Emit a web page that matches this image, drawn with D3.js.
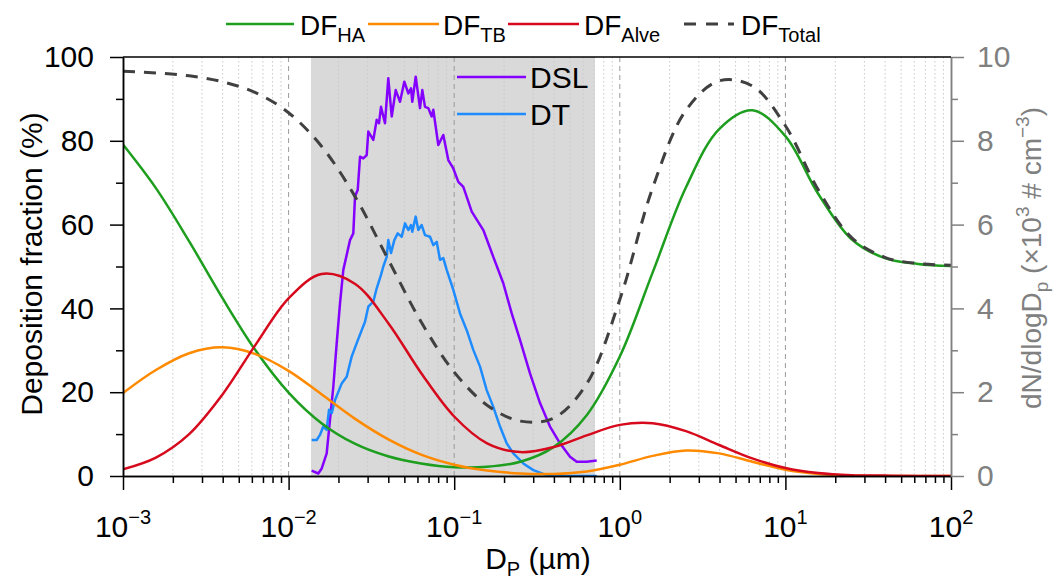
<!DOCTYPE html>
<html>
<head>
<meta charset="utf-8">
<script src="https://cdn.jsdelivr.net/npm/d3@7"></script>
<style>
  body { margin: 0; background: #fff; }
  svg { display: block; font-family: "Liberation Sans", Arial, sans-serif; }
</style>
</head>
<body>
<svg id="chart" width="1060" height="579"></svg>
<script>
// particle diameter (um) for the deposition fraction curves
const dpModel = [0.001, 0.00158, 0.00251, 0.00398, 0.00631, 0.01, 0.0158, 0.0251, 0.0398, 0.0631,
  0.1, 0.158, 0.251, 0.398, 0.631, 1, 1.58, 2.51, 3.98, 6.31, 10, 15.8, 25.1, 39.8, 63.1, 100];
const dfHA = [79.1, 68.7, 56.0, 42.5, 30.0, 19.9, 12.6, 7.7, 4.7, 3.0, 2.1, 2.2, 3.4, 6.9, 14.5,
  28.5, 48.6, 68.9, 82.8, 87.3, 81.1, 67.3, 56.5, 52.0, 50.6, 50.1];
const dfTB = [19.8, 25.3, 29.3, 30.7, 29.1, 25.1, 19.5, 13.7, 8.8, 5.1, 2.7, 1.3, 0.6, 0.5, 1.1,
  2.7, 4.8, 6.1, 5.4, 3.4, 1.5, 0.5, 0.1, 0.0, 0.0, 0.0];
const dfAlve = [1.6, 4.4, 10.0, 19.4, 31.3, 42.4, 48.2, 45.9, 36.6, 24.6, 14.2, 7.8, 5.7, 6.9, 9.7,
  12.2, 12.6, 10.7, 7.4, 4.2, 1.9, 0.7, 0.2, 0.1, 0.0, 0.0];
const dfTotal = [96.6, 96.2, 95.5, 94.1, 91.5, 86.7, 78.7, 66.8, 51.8, 36.8, 24.8, 16.9, 13.1, 13.8, 22.0,
  42.1, 68.8, 87.3, 94.3, 93.1, 83.6, 68.3, 56.9, 52.2, 50.7, 50.3];

// measured size distributions (x10^3 # cm^-3)
const dslD = [0.01378, 0.01511, 0.01585, 0.01698, 0.01778, 0.01862, 0.01952, 0.02044, 0.0214, 0.02349,
  0.02459, 0.02518, 0.02615, 0.027, 0.02826, 0.02962, 0.03029, 0.03246, 0.03404, 0.03515, 0.03614,
  0.0382, 0.04, 0.04194, 0.04434, 0.04707, 0.04997, 0.05282, 0.05484, 0.05585, 0.05855, 0.06216,
  0.06418, 0.06664, 0.06976, 0.07312, 0.07478, 0.08017, 0.08593, 0.09213, 0.09877, 0.1059, 0.1135,
  0.1276, 0.1499, 0.1722, 0.1979, 0.2225, 0.2496, 0.2869, 0.3298, 0.3789, 0.4355, 0.5004, 0.5491,
  0.6312, 0.7252];
const dslN = [0.13, 0.06, 0.18, 0.54, 1.34, 2.13, 3.17, 4.12, 4.92, 5.63, 5.79, 6.67, 6.83, 7.62, 7.58,
  7.66, 8.22, 8.02, 8.50, 8.42, 8.81, 8.42, 9.49, 8.58, 9.21, 8.93, 9.41, 9.13, 9.25, 8.93, 9.53, 8.78,
  9.21, 8.81, 8.78, 8.58, 8.74, 7.90, 8.14, 7.54, 7.34, 7.02, 6.90, 6.31, 5.87, 5.23, 4.60, 3.88, 3.25,
  2.45, 1.74, 1.18, 0.78, 0.46, 0.34, 0.34, 0.37];
const dtD = [0.01378, 0.01478, 0.01547, 0.0162, 0.01698, 0.01754, 0.01821, 0.01906, 0.02093, 0.02243,
  0.02404, 0.02578, 0.02763, 0.02893, 0.03029, 0.03246, 0.03404, 0.03614, 0.03731, 0.03912, 0.04,
  0.04153, 0.04349, 0.04559, 0.0482, 0.05046, 0.05282, 0.05484, 0.05585, 0.05855, 0.0607, 0.06363,
  0.06664, 0.07143, 0.07478, 0.0784, 0.08209, 0.08593, 0.0901, 0.09877, 0.1084, 0.119, 0.1304, 0.1432,
  0.1571, 0.1722, 0.1891, 0.2075, 0.2275, 0.2614, 0.3004, 0.3451, 0.3965, 0.5, 0.7252];
const dtN = [0.86, 0.86, 0.98, 1.18, 1.10, 1.58, 1.50, 1.81, 2.21, 2.37, 2.85, 3.17, 3.48, 3.68, 4.04,
  4.16, 4.48, 4.80, 5.00, 5.23, 5.63, 5.32, 5.63, 5.79, 5.71, 6.03, 5.87, 5.99, 5.83, 6.19, 5.87, 5.99,
  5.75, 5.71, 5.51, 5.59, 5.16, 5.20, 4.92, 4.44, 3.88, 3.48, 3.01, 2.61, 2.05, 1.65, 1.18, 0.78, 0.54,
  0.30, 0.14, 0.05, 0.01, 0.0, 0.0];

// measured size range (shaded)
const shadeRange = [0.01365, 0.708];

// ticks
const xDecades = [-3, -2, -1, 0, 1, 2];
const yLeftTicks = [0, 20, 40, 60, 80, 100];
const yLeftMinor = [10, 30, 50, 70, 90];
const yRightTicks = [0, 2, 4, 6, 8, 10];
const yRightMinor = [1, 3, 5, 7, 9];

const col = { ha: "#1e9e1e", tb: "#ff8a00", alve: "#d60a1c", total: "#404040", dsl: "#8400ff", dt: "#1e8cff" };

const pL = 123, pR = 951, pT = 57, pB = 476;
const svg = d3.select("#chart");

const x = d3.scaleLog().domain([1e-3, 1e2]).range([pL, pR]);
const yL = d3.scaleLinear().domain([0, 100]).range([pB, pT]);
const yR = d3.scaleLinear().domain([0, 10]).range([pB, pT]);

svg.append("defs").append("clipPath").attr("id", "clip")
  .append("rect").attr("x", pL).attr("y", pT).attr("width", pR - pL).attr("height", pB - pT);

// shaded measurement range
svg.append("rect")
  .attr("x", x(shadeRange[0])).attr("y", pT)
  .attr("width", x(shadeRange[1]) - x(shadeRange[0])).attr("height", pB - pT)
  .attr("fill", "#d9d9d9");

// grid
const minorVals = [];
xDecades.slice(0, -1).forEach(e => { for (let k = 2; k <= 9; k++) minorVals.push(k * Math.pow(10, e)); });
const majorVals = xDecades.slice(1, -1).map(e => Math.pow(10, e));

svg.append("g").selectAll("line").data(minorVals).join("line")
  .attr("x1", d => x(d)).attr("x2", d => x(d)).attr("y1", pT).attr("y2", pB)
  .attr("stroke", "#c8c8c8").attr("stroke-width", 1).attr("stroke-dasharray", "1.5,2.5");
svg.append("g").selectAll("line").data(majorVals).join("line")
  .attr("x1", d => x(d)).attr("x2", d => x(d)).attr("y1", pT).attr("y2", pB)
  .attr("stroke", "#9a9a9a").attr("stroke-width", 1).attr("stroke-dasharray", "5,4");

// curves
const plot = svg.append("g").attr("clip-path", "url(#clip)");

const lineR = d3.line().x(d => x(d[0])).y(d => yR(d[1]));
plot.append("path").datum(d3.zip(dslD, dslN)).attr("d", lineR)
  .attr("fill", "none").attr("stroke", col.dsl).attr("stroke-width", 2.5).attr("stroke-linejoin", "round");
plot.append("path").datum(d3.zip(dtD, dtN)).attr("d", lineR)
  .attr("fill", "none").attr("stroke", col.dt).attr("stroke-width", 2.5).attr("stroke-linejoin", "round");

const lineL = d3.line().x(d => x(d[0])).y(d => yL(d[1])).curve(d3.curveCatmullRom.alpha(0.5));
const dfSeries = [
  { vals: dfHA, color: col.ha, dash: null },
  { vals: dfTB, color: col.tb, dash: null },
  { vals: dfAlve, color: col.alve, dash: null },
  { vals: dfTotal, color: col.total, dash: "12,9" }
];
dfSeries.forEach(s => {
  plot.append("path").datum(d3.zip(dpModel, s.vals)).attr("d", lineL)
    .attr("fill", "none").attr("stroke", s.color).attr("stroke-width", s.dash ? 3 : 2.5)
    .attr("stroke-dasharray", s.dash);
});

// axes
const fs = 30;
const xAxisMinor = svg.append("g").attr("transform", `translate(0,${pB})`)
  .call(d3.axisBottom(x).tickValues(minorVals).tickSize(7).tickSizeOuter(0).tickFormat(""));
const xAxis = svg.append("g").attr("transform", `translate(0,${pB})`)
  .call(d3.axisBottom(x).tickValues(xDecades.map(e => Math.pow(10, e))).tickSize(14).tickSizeOuter(0).tickFormat(""));
[xAxisMinor, xAxis].forEach(g => g.selectAll("line, path").attr("stroke-width", 1.5));

xDecades.forEach(e => {
  const t = svg.append("text").attr("x", x(Math.pow(10, e))).attr("y", 537)
    .attr("text-anchor", "middle").style("font-size", fs + "px").attr("fill", "#000");
  t.append("tspan").text("10");
  t.append("tspan").attr("dy", -13).style("font-size", "20px").text(e < 0 ? "\u2212" + (-e) : String(e));
});

const yAxisMinor = svg.append("g").attr("transform", `translate(${pL},0)`)
  .call(d3.axisLeft(yL).tickValues(yLeftMinor).tickSize(7).tickSizeOuter(0).tickFormat(""));
const yAxis = svg.append("g").attr("transform", `translate(${pL},0)`)
  .call(d3.axisLeft(yL).tickValues(yLeftTicks).tickSize(13).tickSizeOuter(0).tickPadding(16));
yAxis.selectAll("text").style("font-size", fs + "px").style("font-family", "inherit");
[yAxisMinor, yAxis].forEach(g => g.selectAll("line, path").attr("stroke-width", 1.5));

const gray = "#808080";
const yRAxisMinor = svg.append("g").attr("transform", `translate(${pR},0)`).attr("color", gray)
  .call(d3.axisRight(yR).tickValues(yRightMinor).tickSize(7).tickSizeOuter(0).tickFormat(""));
const yRAxis = svg.append("g").attr("transform", `translate(${pR},0)`).attr("color", gray)
  .call(d3.axisRight(yR).tickValues(yRightTicks).tickSize(13).tickSizeOuter(0).tickPadding(13));
yRAxis.selectAll("text").style("font-size", fs + "px").style("font-family", "inherit");
[yRAxisMinor, yRAxis].forEach(g => g.selectAll("line, path").attr("stroke-width", 1.5));

// top frame line
svg.append("line").attr("x1", pL).attr("x2", pR).attr("y1", pT).attr("y2", pT)
  .attr("stroke", "#000").attr("stroke-width", 1.5);

// axis titles
svg.append("text").attr("transform", "translate(42,264) rotate(-90)")
  .attr("text-anchor", "middle").style("font-size", fs + "px").text("Deposition fraction (%)");

const xt = svg.append("text").attr("x", 538).attr("y", 569).attr("text-anchor", "middle").style("font-size", fs + "px");
xt.append("tspan").text("D");
xt.append("tspan").attr("dy", 7).style("font-size", "20px").text("P");
xt.append("tspan").attr("dy", -7).text(" (\u00b5m)");

const rt = svg.append("text").attr("transform", "translate(1041,258) rotate(-90)")
  .attr("text-anchor", "middle").style("font-size", "28px").attr("fill", gray);
rt.append("tspan").text("dN/dlogD");
rt.append("tspan").attr("dy", 7).style("font-size", "19px").text("p");
rt.append("tspan").attr("dy", -7).text(" (\u00d710");
rt.append("tspan").attr("dy", -12).style("font-size", "19px").text("3");
rt.append("tspan").attr("dy", 12).text(" # cm");
rt.append("tspan").attr("dy", -12).style("font-size", "19px").text("\u22123");
rt.append("tspan").attr("dy", 12).text(")");

// top legend
const legendTop = [
  { sub: "HA", color: col.ha, dash: null, x1: 226, x2: 294, tx: 300 },
  { sub: "TB", color: col.tb, dash: null, x1: 368, x2: 439, tx: 443 },
  { sub: "Alve", color: col.alve, dash: null, x1: 508, x2: 579, tx: 584 },
  { sub: "Total", color: col.total, dash: "12,10", x1: 684, x2: 734, tx: 741 }
];
legendTop.forEach(d => {
  svg.append("line").attr("x1", d.x1).attr("x2", d.x2).attr("y1", 24).attr("y2", 24)
    .attr("stroke", d.color).attr("stroke-width", d.dash ? 3 : 2.5).attr("stroke-dasharray", d.dash);
  const t = svg.append("text").attr("x", d.tx).attr("y", 35).style("font-size", "28px");
  t.append("tspan").text("DF");
  t.append("tspan").attr("dy", 7).style("font-size", "20px").text(d.sub);
});

// inner legend
const legendIn = [
  { label: "DSL", color: col.dsl, y: 77 },
  { label: "DT", color: col.dt, y: 114 }
];
legendIn.forEach(d => {
  svg.append("line").attr("x1", 457).attr("x2", 526).attr("y1", d.y).attr("y2", d.y)
    .attr("stroke", d.color).attr("stroke-width", 2.5);
  svg.append("text").attr("x", 530).attr("y", d.y + 10.5).style("font-size", fs + "px").text(d.label);
});
</script>
</body>
</html>
